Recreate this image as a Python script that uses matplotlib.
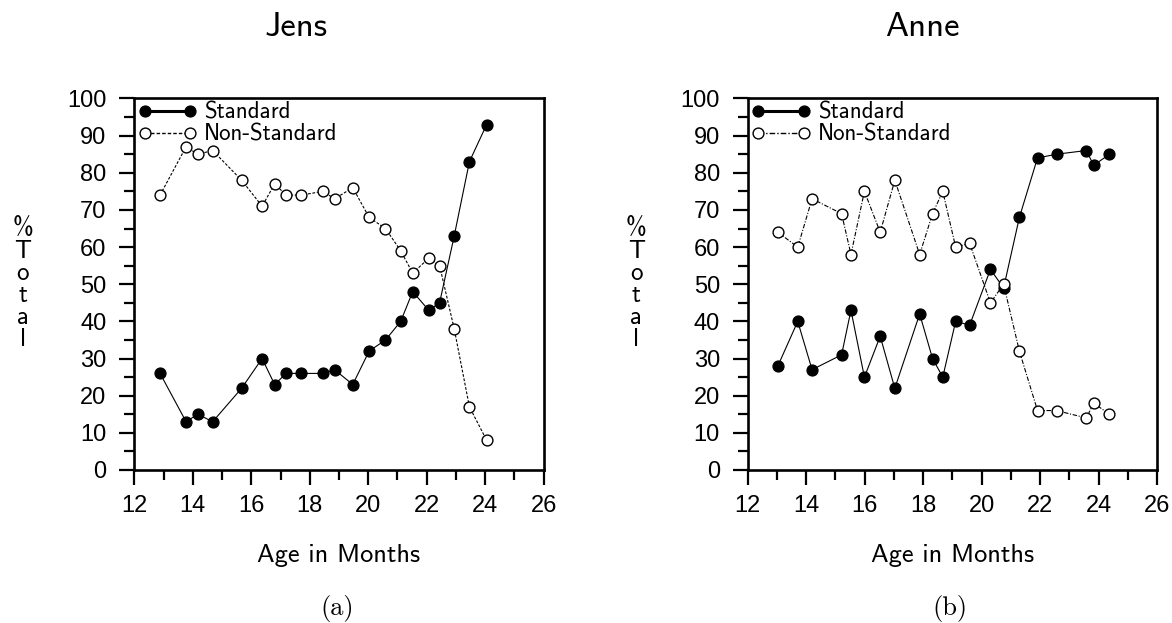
import matplotlib
matplotlib.use("Agg")
import matplotlib.pyplot as plt
from matplotlib.ticker import MultipleLocator

# ages in months and % of total for each child
jens_age = [12.88, 13.77, 14.17, 14.68, 15.67, 16.37, 16.80, 17.19, 17.71, 18.45, 18.85,
            19.47, 20.03, 20.59, 21.11, 21.52, 22.07, 22.44, 22.94, 23.46, 24.05]
jens_standard = [26, 13, 15, 13, 22, 30, 23, 26, 26, 26, 27, 23, 32, 35, 40, 48, 43, 45, 63, 83, 93]
jens_nonstandard = [74, 87, 85, 86, 78, 71, 77, 74, 74, 75, 73, 76, 68, 65, 59, 53, 57, 55, 38, 17, 8]

anne_age = [13.03, 13.71, 14.20, 15.21, 15.53, 15.99, 16.53, 17.03, 17.88, 18.32, 18.67,
            19.11, 19.59, 20.30, 20.75, 21.29, 21.91, 22.56, 23.58, 23.83, 24.37]
anne_standard = [28, 40, 27, 31, 43, 25, 36, 22, 42, 30, 25, 40, 39, 54, 49, 68, 84, 85, 86, 82, 85]
anne_nonstandard = [64, 60, 73, 69, 58, 75, 64, 78, 58, 69, 75, 60, 61, 45, 50, 32, 16, 16, 14, 18, 15]

panels = [
    ("Jens", "(a)", jens_age, jens_standard, jens_nonstandard, (0, (2.5, 1.5)), 0.395),
    ("Anne", "(b)", anne_age, anne_standard, anne_nonstandard, (0, (4, 1.5, 1, 1.5)), 0.427),
]

sans = "cmss10"
tick_font = "Liberation Sans"

fig = plt.figure(figsize=(11.72, 6.23), dpi=100)
lefts = [0.1146, 0.638]

for left, (name, tag, age, std, nonstd, ls, title_x) in zip(lefts, panels):
    ax = fig.add_axes([left, 0.2456, 0.3493, 0.5963])

    ax.plot(age, std, color="black", lw=0.8, marker="o", ms=7.8,
            mfc="black", mec="black", label="Standard")
    ax.plot(age, nonstd, color="black", lw=0.8, ls=ls, marker="o", ms=7.8,
            mfc="white", mec="black", mew=1.0, label="Non-Standard")

    ax.set_xlim(12, 26)
    ax.set_ylim(0, 100)
    ax.xaxis.set_major_locator(MultipleLocator(2))
    ax.xaxis.set_minor_locator(MultipleLocator(1))
    ax.yaxis.set_major_locator(MultipleLocator(10))
    ax.yaxis.set_minor_locator(MultipleLocator(5))
    ax.tick_params(which="major", length=11, width=1.6, direction="out")
    ax.tick_params(which="minor", length=7, width=1.6, direction="out")
    ax.tick_params(axis="x", which="major", pad=7)
    ax.tick_params(axis="y", which="major", pad=9)
    for lab in ax.get_xticklabels() + ax.get_yticklabels():
        lab.set_fontfamily(tick_font)
        lab.set_fontsize(17)
    for sp in ax.spines.values():
        sp.set_linewidth(1.9)

    ax.text(title_x, 1.19, name, transform=ax.transAxes, ha="center", va="center",
            fontfamily=sans, fontsize=25)

    ax.set_xlabel("Age in Months", fontfamily=sans, fontsize=19, va="center")
    ax.xaxis.set_label_coords(0.5, -0.2315)
    ax.set_ylabel("%\nT\no\nt\na\nl", fontfamily=sans, fontsize=18, rotation=0,
                  ha="center", va="center", linespacing=0.95)
    ax.yaxis.set_label_coords(-0.2726, 0.5)

    ax.text(0.495, -0.374, tag, transform=ax.transAxes, ha="center", va="center",
            fontfamily="cmr10", fontsize=19)

    leg = ax.legend(loc="upper left", bbox_to_anchor=(0, 1), borderaxespad=0,
                    frameon=False, numpoints=2, handlelength=2.6, handletextpad=0.3,
                    labelspacing=0.0, borderpad=0.15,
                    prop={"family": sans, "size": 16.5})
    hl = leg.get_lines()
    hl[0].set_linewidth(2.2)
    hl[1].set_linewidth(1.0)

fig.savefig("out.png", dpi=100)
